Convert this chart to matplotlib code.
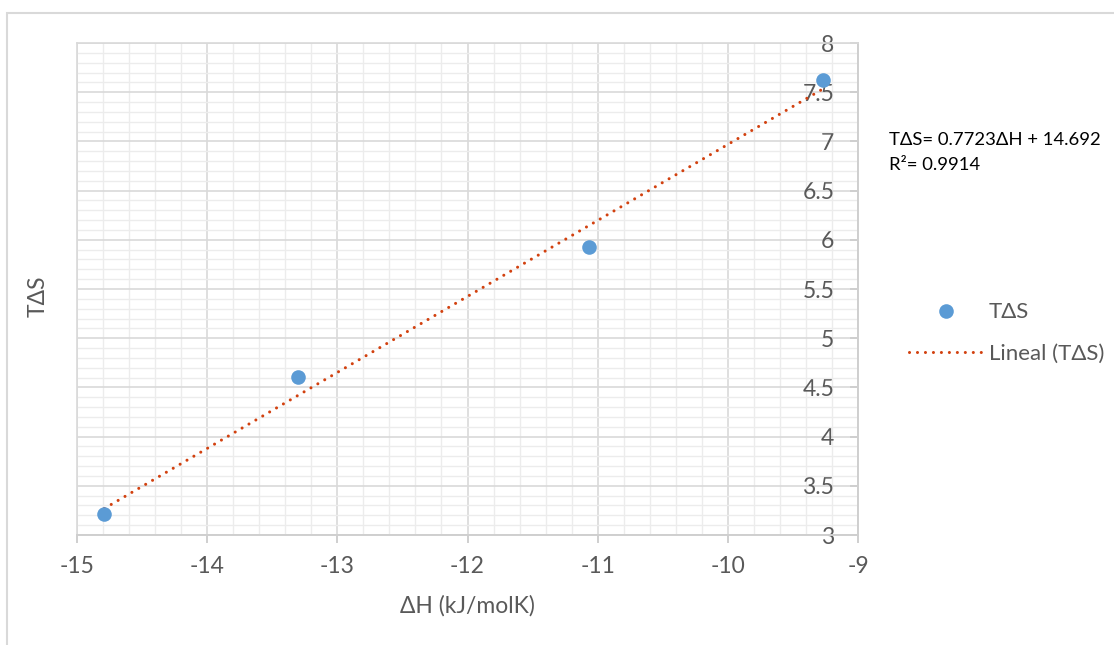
import matplotlib
matplotlib.use("Agg")
import matplotlib.pyplot as plt
from matplotlib.ticker import MultipleLocator
from matplotlib.lines import Line2D
from matplotlib.patches import Rectangle
import numpy as np

# Data
delta_h = [-14.79, -13.30, -11.07, -9.27]
t_delta_s = [3.21, 4.61, 5.93, 7.62]
slope = 0.7723
intercept = 14.692
r_squared = 0.9914
x_ticks = [-15, -14, -13, -12, -11, -10, -9]
y_ticks = [3, 3.5, 4, 4.5, 5, 5.5, 6, 6.5, 7, 7.5, 8]

plt.rcParams['font.family'] = ['Lato', 'DejaVu Sans']

W, H = 1114, 645
fig = plt.figure(figsize=(W / 100, H / 100), dpi=100)
fig.patch.set_facecolor('white')

# Outer chart frame (only top and left edges fall inside the canvas)
fig.patches.append(Rectangle((7 / W, -0.5), 2.0, 0.5 + (H - 13) / H,
                             transform=fig.transFigure, fill=False,
                             edgecolor='#d9d9d9', lw=1.5))

left, right, top, bottom = 77, 858, 43, 535
ax = fig.add_axes([left / W, 1 - bottom / H, (right - left) / W, (bottom - top) / H])

ax.set_xlim(-15, -9)
ax.set_ylim(3, 8)
ax.set_xticks(x_ticks)
ax.set_yticks(y_ticks)
ax.set_xticklabels([f"{t:g}" for t in x_ticks])
ax.set_yticklabels([f"{t:g}" for t in y_ticks])
ax.xaxis.set_minor_locator(MultipleLocator(0.2))
ax.yaxis.set_minor_locator(MultipleLocator(0.1))

ax.grid(which='minor', color='#ececec', lw=1.0, zorder=0)
ax.grid(which='major', color='#d9d9d9', lw=1.2, zorder=0)
ax.set_axisbelow(True)

for side in ['top', 'left']:
    ax.spines[side].set_color('#d9d9d9')
    ax.spines[side].set_linewidth(1.2)
for side in ['bottom', 'right']:
    ax.spines[side].set_color('#cfcfcf')
    ax.spines[side].set_linewidth(1.4)

fs = 16.5
ax.tick_params(axis='x', which='major', direction='out', length=6, width=1.4,
               color='#cfcfcf', labelcolor='#595959', labelsize=fs, pad=9)
ax.tick_params(axis='y', which='major', left=False, right=True, labelleft=False,
               labelright=True, direction='in', length=6, width=1.4,
               color='#cfcfcf', labelcolor='#595959', labelsize=fs, pad=-17)
ax.tick_params(which='minor', length=0)
for lab in ax.get_yticklabels():
    lab.set_horizontalalignment('right')

# Trend line drawn from the stated regression
xs = np.array([min(delta_h), max(delta_h)])
ax.plot(xs, slope * xs + intercept, color='#d2410f', lw=2.2,
        linestyle=(0, (0.01, 2.6)), dash_capstyle='round', zorder=3)

ax.scatter(delta_h, t_delta_s, s=10.5 ** 2, color='#5b9bd5', zorder=4, linewidths=0)

ax.set_xlabel('ΔH (kJ/molK)', fontsize=fs, color='#595959')
ax.set_ylabel('TΔS', fontsize=fs, color='#595959')
ax.yaxis.set_label_position('left')
ax.xaxis.set_label_coords(0.5, -(606 - bottom) / (bottom - top))
ax.yaxis.set_label_coords((38 - left) / (right - left), 1 - (296 - top) / (bottom - top))
ax.xaxis.label.set_verticalalignment('center')
ax.yaxis.label.set_verticalalignment('center')

# Regression annotation
fs_eq = 13.3
fig.text(889 / W, 1 - 140 / H, f'TΔS= {slope}ΔH + {intercept}', fontsize=fs_eq,
         color='#000000', va='center', ha='left')
fig.text(889 / W, 1 - 165 / H, f'R²= {r_squared}', fontsize=fs_eq,
         color='#000000', va='center', ha='left')

handles = [
    Line2D([], [], marker='o', linestyle='none', color='#5b9bd5', markersize=10.5,
           markeredgewidth=0),
    Line2D([], [], color='#d2410f', lw=2.2, linestyle=(0, (0.01, 2.6)),
           dash_capstyle='round'),
]
fs_leg = 16
leg = fig.legend(handles, ['TΔS', 'Lineal (TΔS)'], loc='center left',
                 bbox_to_anchor=(909 / W, 1 - 333 / H), frameon=False,
                 fontsize=fs_leg, handlelength=3.3, handletextpad=0.3,
                 labelspacing=0.95, borderpad=0, borderaxespad=0)
for t in leg.get_texts():
    t.set_color('#595959')

fig.savefig('out.png', dpi=100, facecolor='white')
